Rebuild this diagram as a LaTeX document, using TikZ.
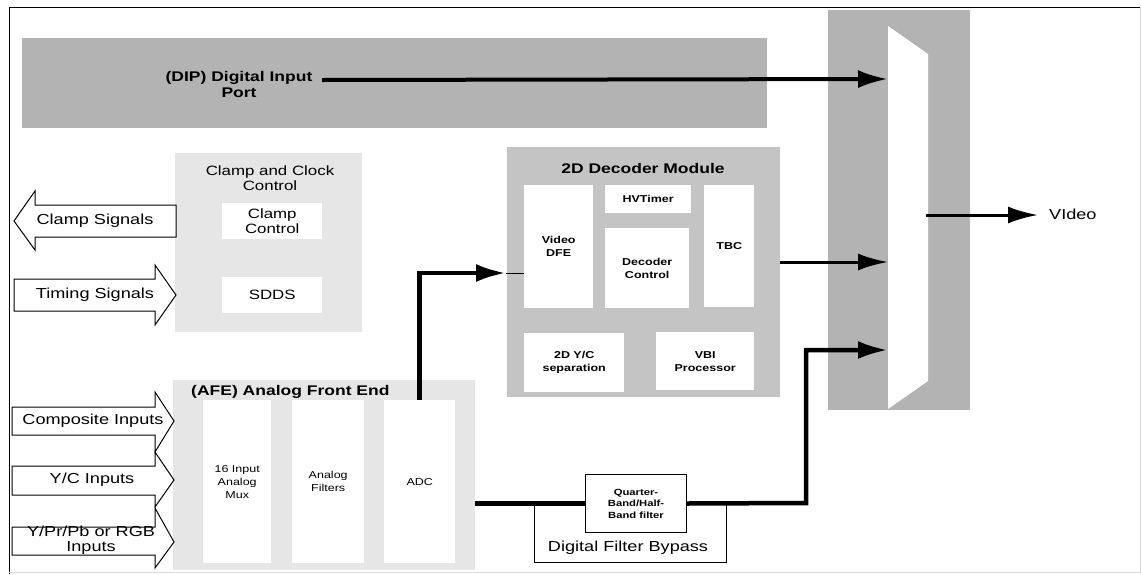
\documentclass[tikz,border=0pt]{standalone}
\usepackage{fontspec}
\setmainfont{Liberation Sans}[FakeStretch=1.25]
\usetikzlibrary{arrows.meta,positioning}
\definecolor{dipgray}{HTML}{B3B3B3}
\definecolor{decgray}{HTML}{C4C4C4}
\definecolor{litegray}{HTML}{E6E6E6}

\begin{document}
\begin{tikzpicture}[x=1pt, y=-1pt, blk/.style={anchor=north west, inner sep=0pt}, wbox/.style={blk, fill=white, align=center}, bigtxt/.style={font=\fontsize{14.5pt}{15pt}\selectfont, align=center, inner sep=0pt}, midtxt/.style={font=\fontsize{13.5pt}{15.5pt}\selectfont, align=center}, smtxt/.style={font=\fontsize{10pt}{13pt}\selectfont}, smbold/.style={font=\fontsize{10pt}{13pt}\selectfont\bfseries}, hdtxt/.style={font=\fontsize{14pt}{16pt}\selectfont\bfseries, align=center, inner sep=0pt}, sig/.style={draw, line width=1pt, fill=white}, thk/.style={line width=4.5pt, -{Latex[length=30pt,width=18pt]}}, med/.style={line width=3pt, -{Latex[length=30pt,width=17pt]}}]
\useasboundingbox (0,0) rectangle (1141,574);
\fill[white] (0,0) rectangle (1141,574);
\draw[line width=1pt] (9,574) -- (9,7) -- (1141,7);
\draw[black!15] (1140,7) -- (1140,572) -- (9,572);
% background blocks
\node[blk, fill=dipgray, minimum width=745pt, minimum height=90pt] (dip) at (22,38) {};
\node[blk, fill=dipgray, minimum width=142pt, minimum height=400pt] (mux) at (828,10) {};
\node[blk, fill=litegray, minimum width=187pt, minimum height=179pt] (clk) at (175,153) {};
\node[blk, fill=litegray, minimum width=302pt, minimum height=190pt] (afe) at (173,380) {};
\node[blk, fill=decgray, minimum width=273pt, minimum height=250pt] (dec) at (507,147) {};
\fill[white] (888,26) -- (928,54) -- (928,381) -- (888,409) -- cycle;
% titles
\node[hdtxt] (diplbl) at (239,84) {(DIP) Digital Input\\Port};
\node[midtxt, inner sep=0pt] (clklbl) at (270,178) {Clamp and Clock\\Control};
\node[hdtxt, anchor=west] (afelbl) at (191,392) {(AFE) Analog Front End};
\node[hdtxt] (declbl) at (643,168) {2D Decoder Module};
% clamp and clock
\node[wbox, midtxt, minimum width=100pt, minimum height=36pt] (clc) at (222,203) {Clamp\\Control};
\node[wbox, midtxt, minimum width=100pt, minimum height=36pt] (sdds) at (222,277) {SDDS};
% analog front end
\node[wbox, smtxt, minimum width=68pt, minimum height=163pt] (amux) at (203,400) {16 Input\\Analog\\Mux};
\node[wbox, smtxt, minimum width=72pt, minimum height=163pt] (afil) at (292,400) {Analog\\Filters};
\node[wbox, smtxt, minimum width=71pt, minimum height=163pt] (adc) at (384,400) {ADC};
% decoder
\node[wbox, smbold, minimum width=69pt, minimum height=123pt] (dfe) at (524,185) {Video\\DFE};
\node[wbox, smbold, minimum width=86pt, minimum height=28pt] (hvt) at (605,185) {HVTimer};
\node[wbox, smbold, minimum width=84pt, minimum height=80pt] (dctl) at (605,228) {Decoder\\Control};
\node[wbox, smbold, minimum width=50pt, minimum height=122pt] (tbc) at (704,185) {TBC};
\node[wbox, smbold, minimum width=100pt, minimum height=59pt] (yc) at (524,333) {2D Y/C\\separation};
\node[wbox, smbold, minimum width=98pt, minimum height=58pt] (vbi) at (656,332) {VBI\\Processor};
% signal arrows
\draw[sig] (14,221) -- (35,191) -- (35,205) -- (176,205) -- (176,237) -- (35,237) -- (35,250) -- cycle;
\node[bigtxt] (clsig) at (95,221) {Clamp Signals};
\draw[sig] (14,279) -- (155,279) -- (155,265) -- (176,295) -- (155,325) -- (155,311) -- (14,311) -- cycle;
\node[bigtxt] (tmsig) at (95,295) {Timing Signals};
\draw[sig] (12,407) -- (155,407) -- (155,392) -- (174,421) -- (155,452) -- (155,435) -- (12,435) -- cycle;
\node[bigtxt] (cmpin) at (93,421) {Composite Inputs};
\draw[sig] (12,466) -- (155,466) -- (155,452) -- (174,480) -- (155,507) -- (155,495) -- (12,495) -- cycle;
\node[bigtxt] (ycin) at (92,480) {Y/C Inputs};
\draw[sig] (12,527) -- (155,527) -- (155,508) -- (174,542) -- (155,568) -- (155,555) -- (12,555) -- cycle;
\node[bigtxt] (rgbin) at (91,540) {Y/Pr/Pb or RGB\\Inputs};
% bypass
\node[blk, draw, line width=1pt, minimum width=192pt, minimum height=59pt] (byp) at (534,503) {};
\node[bigtxt] (bylbl) at (628,548) {Digital Filter Bypass};
\node[wbox, draw, line width=1pt, smbold, minimum width=101pt, minimum height=58pt, font=\fontsize{9pt}{11.5pt}\selectfont\bfseries] (qbf) at (585,474) {Quarter-\\Band/Half-\\Band filter};
% connectors
\coordinate (muxa) at (888,79);
\coordinate (muxb) at (888,262);
\coordinate (muxc) at (888,350);
\coordinate (muxout) at (926,215);
\coordinate (decin) at (506,273);
\coordinate (bend) at (806,503);
\draw[thk, line width=4pt] (322,80) -- (muxa);
\draw[thk] (adc.north) |- (decin);
\draw[line width=1pt] (decin) -- (dfe.west |- decin);
\draw[med] (dec.east |- muxb) -- (muxb);
\draw[line width=4.5pt] (afe.east |- qbf.west) -- (qbf.west);
\draw[thk] (qbf.east) -- (bend) |- (muxc);
\draw[med] (muxout) -- (1038,215);
\node[bigtxt, anchor=west] (vid) at (1049,214) {VIdeo};
\end{tikzpicture}
\end{document}
